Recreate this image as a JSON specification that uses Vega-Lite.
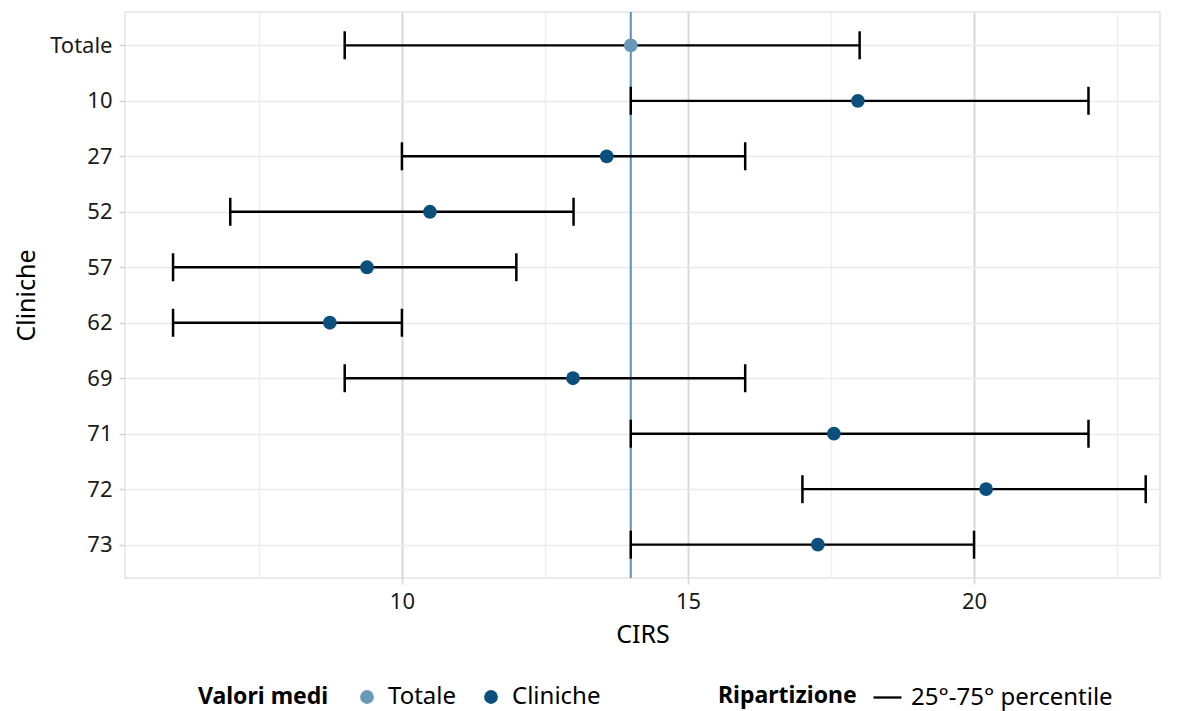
{
  "$schema": "https://vega.github.io/schema/vega-lite/v6.json",
  "width": 1035,
  "height": 566,
  "autosize": {"type": "none"},
  "padding": {"left": 125, "top": 12, "right": 22, "bottom": 133},
  "background": "white",
  "config": {
    "font": "Noto Sans",
    "view": {"stroke": "#e3e3e3", "strokeWidth": 1.5},
    "axis": {
      "labelFont": "Noto Sans",
      "titleFont": "Noto Sans",
      "labelFontSize": 22,
      "titleFontSize": 25,
      "titleFontWeight": "normal",
      "labelColor": "#1a1a1a",
      "titleColor": "#000000",
      "domain": false,
      "tickColor": "#d6d6d6",
      "tickSize": 6,
      "tickWidth": 1.5
    },
    "legend": {
      "labelFont": "Noto Sans",
      "titleFont": "Noto Sans",
      "labelFontSize": 24,
      "titleFontSize": 23,
      "titleFontWeight": "bold",
      "labelColor": "#000000",
      "titleColor": "#000000",
      "labelLimit": 400
    }
  },
  "data": {
    "values": [
      {"clinica": "Totale", "tipo": "Totale", "media": 14.0, "p25": 9, "p75": 18, "rip": "25°-75° percentile"},
      {"clinica": "10", "tipo": "Cliniche", "media": 17.97, "p25": 14, "p75": 22, "rip": "25°-75° percentile"},
      {"clinica": "27", "tipo": "Cliniche", "media": 13.58, "p25": 10, "p75": 16, "rip": "25°-75° percentile"},
      {"clinica": "52", "tipo": "Cliniche", "media": 10.49, "p25": 7, "p75": 13, "rip": "25°-75° percentile"},
      {"clinica": "57", "tipo": "Cliniche", "media": 9.39, "p25": 6, "p75": 12, "rip": "25°-75° percentile"},
      {"clinica": "62", "tipo": "Cliniche", "media": 8.74, "p25": 6, "p75": 10, "rip": "25°-75° percentile"},
      {"clinica": "69", "tipo": "Cliniche", "media": 12.99, "p25": 9, "p75": 16, "rip": "25°-75° percentile"},
      {"clinica": "71", "tipo": "Cliniche", "media": 17.55, "p25": 14, "p75": 22, "rip": "25°-75° percentile"},
      {"clinica": "72", "tipo": "Cliniche", "media": 20.21, "p25": 17, "p75": 23, "rip": "25°-75° percentile"},
      {"clinica": "73", "tipo": "Cliniche", "media": 17.27, "p25": 14, "p75": 20, "rip": "25°-75° percentile"}
    ]
  },
  "encoding": {
    "y": {
      "field": "clinica",
      "type": "nominal",
      "sort": ["Totale", "10", "27", "52", "57", "62", "69", "71", "72", "73"],
      "scale": {"type": "point", "padding": 0.6},
      "axis": {
        "title": "Cliniche",
        "grid": true,
        "gridColor": "#ebebeb",
        "gridWidth": 1.5,
        "labelPadding": 7,
        "titlePadding": 10
      }
    }
  },
  "layer": [
    {
      "transform": [{"filter": "datum.tipo === 'Totale'"}],
      "mark": {"type": "rule", "color": "#5b8fb5", "strokeWidth": 2},
      "encoding": {
        "y": null,
        "x": {"field": "media", "type": "quantitative"}
      }
    },
    {
      "mark": {"type": "rule", "strokeWidth": 2.3, "opacity": 1},
      "encoding": {
        "x": {
          "field": "p25",
          "type": "quantitative",
          "scale": {"domain": [5.16, 23.25], "nice": false, "zero": false},
          "axis": {
            "title": "CIRS",
            "values": [7.5, 10, 12.5, 15, 17.5, 20, 22.5],
            "labelExpr": "datum.value % 5 === 0 ? format(datum.value, 'd') : ''",
            "grid": true,
            "gridColor": {"condition": {"test": "datum.value % 5 === 0", "value": "#d9d9d9"}, "value": "#efefef"},
            "gridWidth": {"condition": {"test": "datum.value % 5 === 0", "value": 2}, "value": 1.5},
            "tickOpacity": {"condition": {"test": "datum.value % 5 === 0", "value": 1}, "value": 0},
            "labelPadding": 7,
            "titlePadding": 10
          }
        },
        "x2": {"field": "p75"},
        "stroke": {
          "field": "rip",
          "type": "nominal",
          "scale": {"range": ["#000000"]},
          "legend": {
            "title": "Ripartizione",
            "orient": "none",
            "legendX": 593,
            "legendY": 670,
            "direction": "horizontal",
            "titleOrient": "left",
            "titleAnchor": "middle",
            "titlePadding": 15,
            "labelOffset": 8,
            "symbolType": "stroke",
            "symbolSize": 784,
            "symbolStrokeWidth": 2.3,
            "symbolStrokeColor": "#000000"
          }
        }
      }
    },
    {
      "mark": {"type": "tick", "orient": "vertical", "size": 28, "thickness": 2.5, "color": "#000000", "opacity": 1},
      "encoding": {"x": {"field": "p25", "type": "quantitative"}}
    },
    {
      "mark": {"type": "tick", "orient": "vertical", "size": 28, "thickness": 2.5, "color": "#000000", "opacity": 1},
      "encoding": {"x": {"field": "p75", "type": "quantitative"}}
    },
    {
      "mark": {"type": "point", "filled": true, "opacity": 1, "size": 190},
      "encoding": {
        "x": {"field": "media", "type": "quantitative"},
        "fill": {
          "field": "tipo",
          "type": "nominal",
          "scale": {"domain": ["Totale", "Cliniche"], "range": ["#6a98b8", "#0b4f7c"]},
          "legend": {
            "title": "Valori medi",
            "orient": "none",
            "legendX": 73,
            "legendY": 673,
            "direction": "horizontal",
            "titleOrient": "left",
            "titleAnchor": "middle",
            "titlePadding": 26,
            "labelOffset": 9,
            "symbolType": "circle",
            "symbolSize": 190,
            "columnPadding": 22
          }
        }
      }
    }
  ]
}
